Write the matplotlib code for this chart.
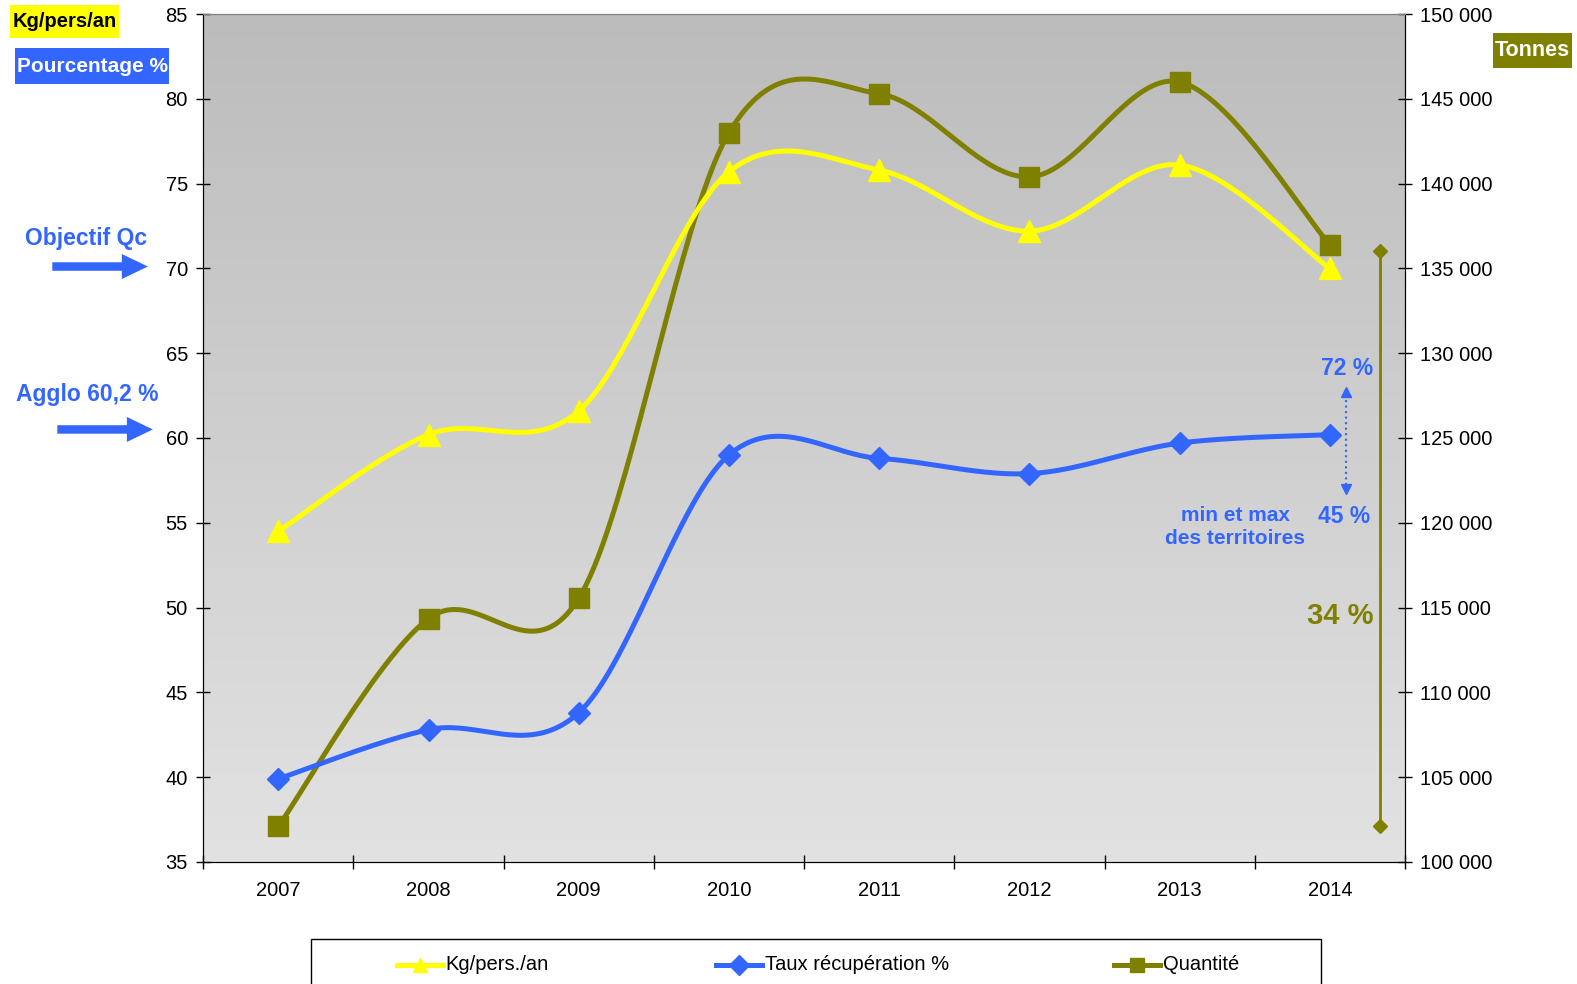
import matplotlib.pyplot as plt
import numpy as np
from matplotlib.patches import FancyArrow, Rectangle
from matplotlib.lines import Line2D
from matplotlib.ticker import FuncFormatter

plt.rcParams['font.family'] = ['Liberation Sans', 'DejaVu Sans']

years = [2007, 2008, 2009, 2010, 2011, 2012, 2013, 2014]
kg_pers = [54.5, 60.2, 61.6, 75.7, 75.8, 72.2, 76.1, 70.0]
taux = [39.9, 42.8, 43.8, 59.0, 58.8, 57.9, 59.7, 60.2]
quantite = [102100, 114350, 115550, 143000, 145300, 140400, 146000, 136400]

YELLOW = '#ffff00'
BLUE = '#3366ff'
OLIVE = '#808000'

W, H = 1577, 984
S = 1577 / 1568  # positions were measured on the shrunk picture


def fx(x):
    return x * S / W


def fy(y):
    return 1 - y * S / H


def smooth(x, y, n=40):
    # excel-like smoothed line (catmull-rom bezier through the points)
    x = np.asarray(x, float)
    y = np.asarray(y, float)
    px = np.concatenate([[x[0]], x, [x[-1]]])
    py = np.concatenate([[y[0]], y, [y[-1]]])
    xs, ys = [], []
    t = np.linspace(0, 1, n)
    for i in range(1, len(px) - 2):
        p0 = np.array([px[i], py[i]])
        p3 = np.array([px[i + 1], py[i + 1]])
        p1 = p0 + (p3 - np.array([px[i - 1], py[i - 1]])) / 6
        p2 = p3 - (np.array([px[i + 2], py[i + 2]]) - p0) / 6
        b = ((1 - t) ** 3)[:, None] * p0 + (3 * (1 - t) ** 2 * t)[:, None] * p1 \
            + (3 * (1 - t) * t ** 2)[:, None] * p2 + (t ** 3)[:, None] * p3
        xs.append(b[:, 0])
        ys.append(b[:, 1])
    return np.concatenate(xs), np.concatenate(ys)


fig = plt.figure(figsize=(15.77, 9.84), dpi=100)
ax2 = fig.add_axes([fx(202), fy(857), fx(1397) - fx(202), fy(14) - fy(857)])
ax = ax2.twinx()
ax2.yaxis.tick_right()
ax.yaxis.tick_left()
ax.set_zorder(ax2.get_zorder() + 1)
ax.patch.set_visible(False)

# gradient background
grad = np.linspace(0, 1, 256)[:, None]
ax2.imshow(grad, extent=(2006.5, 2014.5, 100000, 150000), aspect='auto',
           cmap=plt.matplotlib.colors.LinearSegmentedColormap.from_list('g', ['#bcbcbc', '#e2e2e2']),
           zorder=0, origin='upper')

ax.set_xlim(2006.5, 2014.5)
ax.set_ylim(35, 85)
ax2.set_ylim(100000, 150000)

# olive series on the right axis, drawn under the others
sx, sy = smooth(years, quantite)
ax2.plot(sx, sy, color=OLIVE, lw=3.6, zorder=2, solid_capstyle='round')
ax2.plot(years, quantite, 's', color=OLIVE, ms=14.5, zorder=3)

sx, sy = smooth(years, kg_pers)
ax.plot(sx, sy, color=YELLOW, lw=3.6, zorder=2)
ax.plot(years, kg_pers, '^', color=YELLOW, ms=15.5, zorder=3)

sx, sy = smooth(years, taux)
ax.plot(sx, sy, color=BLUE, lw=3.6, zorder=2)
ax.plot(years, taux, 'D', color=BLUE, ms=11.5, zorder=3)

# axes styling
ax.set_yticks(np.arange(35, 86, 5))
ax2.set_yticks(np.arange(100000, 150001, 5000))
ax2.yaxis.set_major_formatter(FuncFormatter(lambda v, p: f'{int(v):,}'.replace(',', ' ')))
ax2.set_xticks(np.arange(2006.5, 2014.6, 1))
ax2.set_xticklabels([])
ax2.set_xticks(years, minor=True)
ax2.set_xticklabels([str(y) for y in years], minor=True)
ax2.tick_params(axis='x', which='minor', length=0, pad=14, labelsize=14.5)
ax2.tick_params(axis='x', which='major', direction='inout', length=10, width=1)
ax.tick_params(axis='y', direction='inout', length=10, width=1, labelsize=14.5, pad=6)
ax2.tick_params(axis='y', direction='inout', length=10, width=1, labelsize=14.5, pad=6)
for a in (ax, ax2):
    a.spines['top'].set_color('#808080')
    for s in ('left', 'right', 'bottom'):
        a.spines[s].set_color('black')

# min / max of territories
ax.plot([2014.11, 2014.11], [62.9, 56.8], ':', color=BLUE, lw=1.5, zorder=4)
ax.plot([2014.11], [62.7], '^', color=BLUE, ms=7.5, zorder=4)
ax.plot([2014.11], [57.0], 'v', color=BLUE, ms=7.5, zorder=4)
ax.text(2014.29, 64.1, '72 %', color=BLUE, fontsize=16.5, fontweight='bold', ha='right', va='center')
ax.text(2014.27, 55.4, '45 %', color=BLUE, fontsize=16.5, fontweight='bold', ha='right', va='center')
ax.text(2013.37, 54.75, 'min et max\ndes territoires', color=BLUE, fontsize=15, fontweight='bold',
        ha='center', va='center', linespacing=1.25)
ax2.plot([2014.336, 2014.336], [quantite[0], quantite[-1] - 400], color=OLIVE, lw=2,
         marker='D', ms=7, zorder=4)
ax.text(2014.29, 49.5, '34 %', color=OLIVE, fontsize=21, fontweight='bold', ha='right', va='center')

# side labels in coloured boxes
boxes = [(10, 118, 5, 38, YELLOW, 'black', 'Kg/pers/an', 14.5),
         (15, 168, 48, 84, BLUE, 'white', 'Pourcentage %', 15),
         (1484, 1563, 33, 68, OLIVE, 'white', 'Tonnes', 15.5)]
for x0, x1, y0, y1, fc, tc, lab, fs in boxes:
    fig.add_artist(Rectangle((fx(x0), fy(y1)), fx(x1) - fx(x0), fy(y0) - fy(y1),
                             transform=fig.transFigure, fc=fc, ec='none'))
    fig.text(fx((x0 + x1) / 2), fy((y0 + y1) / 2), lab, fontsize=fs, fontweight='bold',
             color=tc, ha='center', va='center')

fig.text(fx(86), fy(237), 'Objectif Qc', fontsize=16.5, fontweight='bold', color=BLUE,
         ha='center', va='center')
fig.text(fx(87), fy(392), 'Agglo 60,2 %', fontsize=16.5, fontweight='bold', color=BLUE,
         ha='center', va='center')
for x0, x1, yy in [(52, 147, 265), (57, 152, 427)]:
    fig.add_artist(FancyArrow(x0 * S / 100, (H - yy * S) / 100, (x1 - x0) * S / 100, 0,
                              width=0.085, head_width=0.25, head_length=0.26,
                              length_includes_head=True, color=BLUE, ec='none',
                              transform=fig.dpi_scale_trans))

# legend box, cut by the bottom of the figure
fig.add_artist(Rectangle((fx(309), -0.02), fx(1313) - fx(309), 0.02 + fy(934),
                         transform=fig.transFigure, fc='white', ec='black', lw=1))
entries = [(395, 440, YELLOW, '^', 'Kg/pers./an'),
           (712, 758, BLUE, 'D', 'Taux récupération %'),
           (1108, 1153, OLIVE, 's', 'Quantité')]
ly = fy(959)
for x0, x1, c, m, lab in entries:
    fig.add_artist(Line2D([fx(x0), fx(x1)], [ly, ly], color=c, lw=3.6, transform=fig.transFigure))
    fig.add_artist(Line2D([fx((x0 + x1) / 2)], [ly], color=c, marker=m, ms=10, ls='none',
                          transform=fig.transFigure))
    fig.text(fx(x1 + 3), ly, lab, fontsize=14.5,
             family=['Liberation Sans Narrow', 'Liberation Sans', 'DejaVu Sans'],
             ha='left', va='center')

fig.savefig('out.png', dpi=100)
